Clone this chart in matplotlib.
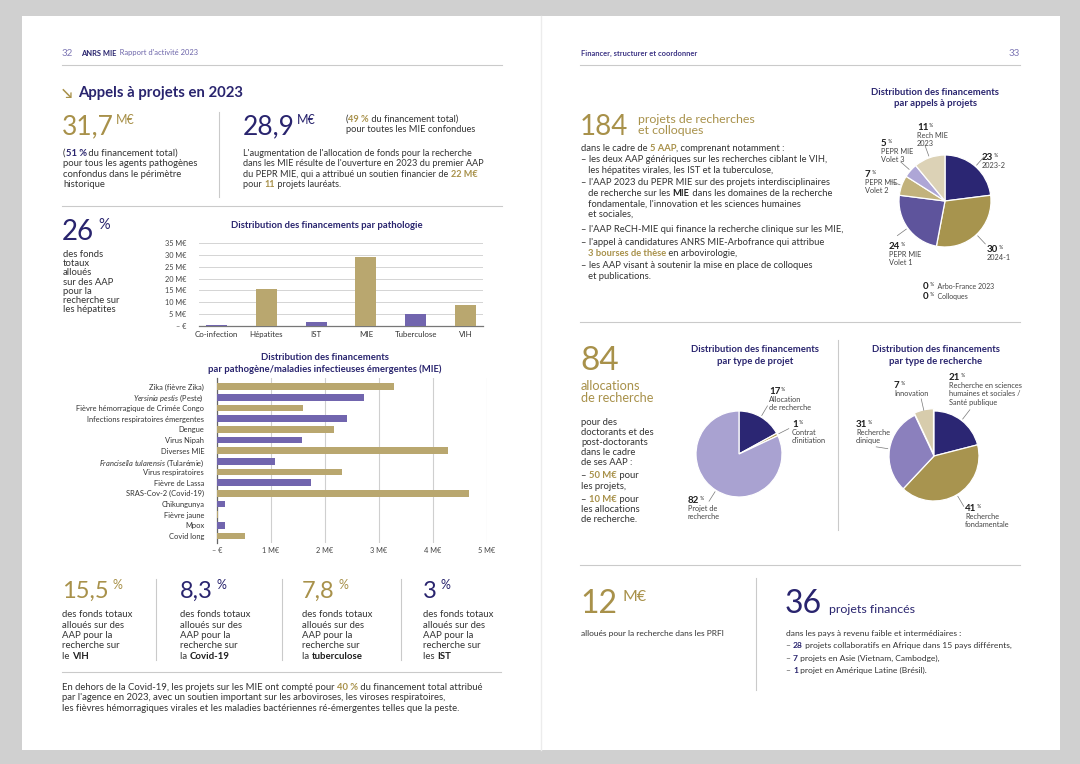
#!/usr/bin/env python3
"""Rapport d'activité ANRS MIE 2023, pages 32-33 : appels à projets."""

import matplotlib
matplotlib.use("Agg")
import matplotlib.pyplot as plt
import numpy as np
from matplotlib.patches import Rectangle
from matplotlib.ticker import FuncFormatter, MultipleLocator

plt.rcParams["font.family"] = ["Lato", "DejaVu Sans"]
plt.rcParams["mathtext.fontset"] = "custom"
plt.rcParams["mathtext.rm"] = "Lato"
plt.rcParams["mathtext.it"] = "Lato:italic"

W, H = 1080, 764
NAVY = "#29246e"
GOLD = "#a8914a"
BAR_GOLD = "#b9a76f"
BAR_PURPLE = "#7165ae"
TEXT = "#333333"
DARK = "#1e1e1e"
GREY = "#cacaca"
BIG = "normal"
TITLE = 6.8

# ---- data -------------------------------------------------------------
patho_labels = ["Co-infection", "Hépatites", "IST", "MIE", "Tuberculose", "VIH"]
patho_values = [0.4, 15.8, 1.8, 29.0, 4.9, 9.0]
patho_purple = [True, False, True, False, True, False]

mie_labels = [
    "Zika (fièvre Zika)",
    r"$\mathit{Yersinia\ pestis}$ (Peste)",
    "Fièvre hémorragique de Crimée Congo",
    "Infections respiratoires émergentes",
    "Dengue",
    "Virus Nipah",
    "Diverses MIE",
    r"$\mathit{Francisella\ tularensis}$ (Tularémie)",
    "Virus respiratoires",
    "Fièvre de Lassa",
    "SRAS-Cov-2 (Covid-19)",
    "Chikungunya",
    "Fièvre jaune",
    "Mpox",
    "Covid long",
]
mie_values = [3.28, 2.73, 1.60, 2.42, 2.18, 1.58, 4.28, 1.08,
              2.32, 1.74, 4.67, 0.15, 0.03, 0.15, 0.53]

aap_values = [23, 30, 24, 7, 5, 11]
aap_colors = ["#2b2673", "#a7944e", "#5e549c", "#c2b27c", "#aea6d6", "#dcd2b6"]
aap_labels = [["2023-2"], ["2024-1"], ["PEPR MIE", "Volet 1"],
              ["PEPR MIE", "Volet 2"], ["PEPR MIE", "Volet 3"],
              ["Rech MIE", "2023"]]
aap_zero = ["Arbo-France 2023", "Colloques"]

projet_values = [17, 1, 82]
projet_colors = ["#2b2673", "#b19d56", "#a9a2d1"]
projet_labels = [["Allocation", "de recherche"], ["Contrat", "d'initiation"],
                 ["Projet de", "recherche"]]

rech_values = [21, 41, 31, 7]
rech_colors = ["#2b2673", "#a8944f", "#8b80bd", "#d7ccac"]
rech_labels = [["Recherche en sciences", "humaines et sociales /", "Santé publique"],
               ["Recherche", "fondamentale"], ["Recherche", "clinique"],
               ["Innovation"]]

# ---- canvas -----------------------------------------------------------
fig = plt.figure(figsize=(W / 100, H / 100), dpi=100)
fig.patch.set_facecolor("#d0d0d0")
cv = fig.add_axes([0, 0, 1, 1])
cv.set_xlim(0, W)
cv.set_ylim(H, 0)
cv.axis("off")
cv.add_patch(Rectangle((22, 16), 1038, 734, fc="white", ec="none"))
cv.plot([541, 541], [16, 750], color="#ececec", lw=1)
R = fig.canvas.get_renderer()


def px_axes(x0, y0, x1, y1):
    return fig.add_axes([x0 / W, 1 - y1 / H, (x1 - x0) / W, (y1 - y0) / H])


def text(x, y, s, size, color=TEXT, weight="normal", **kw):
    kw.setdefault("va", "baseline")
    return cv.text(x, y, s, fontsize=size, color=color, fontweight=weight, **kw)


def width(s, size, weight):
    a = cv.text(0, 0, s + "|", fontsize=size, fontweight=weight)
    b = cv.text(0, 0, "|", fontsize=size, fontweight=weight)
    w = a.get_window_extent(R).width - b.get_window_extent(R).width
    a.remove()
    b.remove()
    return w


def rich(x, y, parts, size, color=TEXT):
    for p in parts:
        if isinstance(p, str):
            p = (p,)
        s = p[0]
        c = p[1] if len(p) > 1 else color
        wt = p[2] if len(p) > 2 else "normal"
        sz = p[3] if len(p) > 3 else size
        dy = p[4] if len(p) > 4 else 0
        text(x, y - dy, s, sz, c, wt)
        x += width(s, sz, wt)


def lines(x, y, rows, size, step, color=TEXT):
    for i, row in enumerate(rows):
        rich(x, y + i * step, row if isinstance(row, list) else [row], size, color)


def hline(y, x0, x1):
    cv.plot([x0, x1], [y, y], color=GREY, lw=0.8)


def vline(x, y0, y1):
    cv.plot([x, x], [y0, y1], color=GREY, lw=0.8)


def big(x, y, num, unit, color, size, usize, gap=3, rise=None):
    text(x, y, num, size, color, BIG)
    w = width(num, size, BIG)
    rise = size * 0.55 if rise is None else rise
    text(x + w + gap, y - rise, unit, usize, color, BIG)


def pct(x, y, v, sub, size=7):
    rich(x, y, [(f"{v}", DARK, "bold", size), (" %", DARK, "normal", size * 0.5, 2.8)], size)
    for i, s in enumerate(sub):
        text(x, y + 8.2 * (i + 1), s, 5.3, "#444444")


def pie(cx, cy, r, values, colors, explode=None):
    pad = 1.1
    ax = px_axes(cx - r * pad, cy - r * pad, cx + r * pad, cy + r * pad)
    wedges, _ = ax.pie(values, colors=colors, startangle=90, counterclock=False,
                       explode=explode,
                       wedgeprops=dict(edgecolor="white", linewidth=0.9))
    ax.set_xlim(-pad, pad)
    ax.set_ylim(-pad, pad)
    ax.axis("off")
    return ax, wedges


def leader(ax, wedge, r0=1.04, r1=1.3):
    a = np.deg2rad((wedge.theta1 + wedge.theta2) / 2)
    ax.plot([r0 * np.cos(a), r1 * np.cos(a)], [r0 * np.sin(a), r1 * np.sin(a)],
            color="#777777", lw=0.5, clip_on=False)


# ---- headers ----------------------------------------------------------
text(62, 56, "32", 7, "#7f78b5")
rich(81, 55.5, [("ANRS MIE", NAVY, "bold"), ("  Rapport d'activité 2023", "#6c64a9")], 5.4)
hline(65, 62, 502)
text(581, 55.5, "Financer, structurer et coordonner", 5.4, "#3d3585", "bold")
text(1020, 56, "33", 7, "#7f78b5", ha="right")
hline(65, 580, 1020)

# ---- left page, top ---------------------------------------------------
text(62, 97.5, "\u2198", 10, GOLD, "bold")
text(78, 97.5, "Appels à projets en 2023", 10.7, NAVY, "bold")

big(62, 134, "31,7", "M€", GOLD, 19, 9, gap=2, rise=10)
lines(63, 156, [[("(", TEXT), ("51 %", NAVY, "bold"), " du financement total)"],
                "pour tous les agents pathogènes",
                "confondus dans le périmètre",
                "historique"], 6.8, 10.4)
vline(219, 112, 197)
big(243, 134, "28,9", "M€", NAVY, 19, 9, gap=2, rise=10)
lines(346, 122, [[("(", TEXT), ("49 %", GOLD, "bold"), " du financement total)"],
                 "pour toutes les MIE confondues"], 6.7, 10.4)
lines(243, 156, ["L'augmentation de l'allocation de fonds pour la recherche",
                 "dans les MIE résulte de l'ouverture en 2023 du premier AAP",
                 ["du PEPR MIE, qui a attribué un soutien financier de ", ("22 M€", GOLD, "bold")],
                 ["pour ", ("11", GOLD, "bold"), " projets lauréats."]], 6.6, 10.4)
hline(206, 62, 502)

# ---- 26 % block -------------------------------------------------------
big(62, 240, "26", "%", NAVY, 20, 10.5, gap=4, rise=11)
lines(63, 257, ["des fonds", "totaux", "alloués", "sur des AAP", "pour la",
                "recherche sur", "les hépatites"], 6.8, 9.2)

# ---- bar chart : pathologie ------------------------------------------
text(327, 228, "Distribution des financements par pathologie", TITLE, NAVY, "bold", ha="center")
ax1 = px_axes(199, 243, 483, 326)
ax1.bar(range(len(patho_values)), patho_values, width=0.42,
        color=[BAR_PURPLE if p else BAR_GOLD for p in patho_purple], zorder=3)
ax1.set_xlim(-0.35, len(patho_values) - 0.65)
ax1.set_ylim(0, 35)
ax1.yaxis.set_major_locator(MultipleLocator(5))
ax1.yaxis.set_major_formatter(FuncFormatter(lambda v, _: "– €" if v == 0 else f"{v:.0f} M€"))
ax1.set_xticks(range(len(patho_labels)))
ax1.set_xticklabels(patho_labels)
ax1.grid(axis="y", color="#d4d4d4", lw=0.7, zorder=0)
for s in ["top", "right", "left"]:
    ax1.spines[s].set_visible(False)
ax1.spines["bottom"].set_color("#777777")
ax1.spines["bottom"].set_linewidth(0.9)
ax1.tick_params(axis="y", length=0, labelsize=5.3, pad=9, labelcolor="#444444")
ax1.tick_params(axis="x", length=0, labelsize=5.7, pad=3.5, labelcolor="#333333")
ax1.set_facecolor("none")

# ---- horizontal bars : MIE -------------------------------------------
text(325, 360.5, "Distribution des financements", TITLE, NAVY, "bold", ha="center")
text(325, 372, "par pathogène/maladies infectieuses émergentes (MIE)", TITLE, NAVY, "bold", ha="center")
ax2 = px_axes(216.7, 378, 486.7, 543)
n = len(mie_values)
ax2.barh(range(n), mie_values, height=0.62,
         color=[BAR_GOLD if i % 2 == 0 else BAR_PURPLE for i in range(n)], zorder=3)
ax2.set_ylim(n - 0.35, -0.8)
ax2.set_xlim(0, 5)
ax2.set_yticks(range(n))
ax2.set_yticklabels(mie_labels)
ax2.xaxis.set_major_locator(MultipleLocator(1))
ax2.xaxis.set_major_formatter(FuncFormatter(lambda v, _: "– €" if v == 0 else f"{v:.0f} M€"))
ax2.grid(axis="x", color="#cfcfcf", lw=0.8, zorder=0)
for s in ["top", "right", "bottom"]:
    ax2.spines[s].set_visible(False)
ax2.spines["left"].set_color("#666666")
ax2.spines["left"].set_linewidth(0.9)
ax2.tick_params(axis="y", length=0, labelsize=5.45, pad=9, labelcolor="#333333")
ax2.tick_params(axis="x", length=0, labelsize=5.3, pad=3, labelcolor="#444444")
ax2.set_facecolor("none")

# ---- bottom stats, left page -----------------------------------------
stats = [(62, "15,5", GOLD, "le ", "VIH"), (180, "8,3", NAVY, "la ", "Covid-19"),
         (302, "7,8", GOLD, "la ", "tuberculose"), (423, "3", NAVY, "les ", "IST")]
for x, num, col, art, what in stats:
    big(x, 598, num, "%", col, 17, 9, gap=4, rise=9)
    lines(x, 617, ["des fonds totaux", "alloués sur des", "AAP pour la", "recherche sur",
                   [art, (what, DARK, "bold")]], 6.9, 10.5)
for x in [156, 282, 401]:
    vline(x, 579, 660)
hline(672, 62, 501)
lines(62, 690, [["En dehors de la Covid-19, les projets sur les MIE ont compté pour ",
                 ("40 %", GOLD, "bold"), " du financement total attribué"],
                "par l'agence en 2023, avec un soutien important sur les arboviroses, les viroses respiratoires,",
                "les fièvres hémorragiques virales et les maladies bactériennes ré-émergentes telles que la peste."],
      6.85, 10.5)

# ---- right page, 184 -------------------------------------------------
text(580, 135, "184", 20, GOLD, BIG)
text(638, 123, "projets de recherches", 8.9, GOLD)
text(638, 134, "et colloques", 8.9, GOLD)
BODY_R = 6.75
lines(581, 151, [["dans le cadre de ", ("5 AAP", GOLD, "bold"), ", comprenant notamment :"],
                 "– les deux AAP génériques sur les recherches ciblant le VIH,",
                 "   les hépatites virales, les IST et la tuberculose,"], BODY_R, 11)
lines(581, 185, ["– l'AAP 2023 du PEPR MIE sur des projets interdisciplinaires",
                 ["   de recherche sur les ", ("MIE", DARK, "bold"), " dans les domaines de la recherche"],
                 "   fondamentale, l'innovation et les sciences humaines",
                 "   et sociales,"], BODY_R, 10.6)
text(581, 232, "– l'AAP ReCH-MIE qui finance la recherche clinique sur les MIE,", BODY_R)
lines(581, 245, ["– l'appel à candidatures ANRS MIE-Arbofrance qui attribue",
                 ["   ", ("3 bourses de thèse", GOLD, "bold"), " en arbovirologie,"]], BODY_R, 10.6)
lines(581, 268.5, ["– les AAP visant à soutenir la mise en place de colloques",
                   "   et publications."], BODY_R, 10.6)

# ---- pie : appels à projets ------------------------------------------
text(935, 95, "Distribution des financements", TITLE, NAVY, "bold", ha="center")
text(935, 106, "par appels à projets", TITLE, NAVY, "bold", ha="center")
axp1, wp1 = pie(945, 201, 46, aap_values, aap_colors)
for w in wp1:
    leader(axp1, w, 1.04, 1.28)
pos1 = [(982, 160), (987, 252), (889, 249), (865, 177), (881, 146), (917, 130)]
for (x, y), v, sub in zip(pos1, aap_values, aap_labels):
    pct(x, y, v, sub)
for i, s in enumerate(aap_zero):
    rich(923, 289 + 10.3 * i, [("0", DARK, "bold", 7), (" %", DARK, "normal", 3.5, 2.8),
                               ("  " + s, "#444444", "normal", 5)], 7)

hline(322, 580, 1020)

# ---- 84 allocations ---------------------------------------------------
text(580, 370, "84", 24, GOLD, BIG)
text(581, 390, "allocations", 9.2, GOLD)
text(581, 402, "de recherche", 9.2, GOLD)
lines(581, 425, ["pour des", "doctorants et des", "post-doctorants", "dans le cadre",
                 "de ses AAP :"], 6.8, 10)
lines(581, 478, [["– ", ("50 M€", GOLD, "bold"), " pour"], "les projets,"], 6.8, 10.6)
lines(581, 501.5, [["– ", ("10 M€", GOLD, "bold"), " pour"], "les allocations",
                   "de recherche."], 6.8, 10.2)

# ---- pie : type de projet --------------------------------------------
text(755, 352.5, "Distribution des financements", TITLE, NAVY, "bold", ha="center")
text(755, 363.5, "par type de projet", TITLE, NAVY, "bold", ha="center")
axp2, wp2 = pie(739, 454, 43, projet_values, projet_colors)
for w in wp2:
    leader(axp2, w, 1.04, 1.3)
pos2 = [(769, 394), (792, 427), (688, 503)]
for (x, y), v, sub in zip(pos2, projet_values, projet_labels):
    pct(x, y, v, sub)
vline(838, 340, 530)

# ---- pie : type de recherche -----------------------------------------
text(936, 352.5, "Distribution des financements", TITLE, NAVY, "bold", ha="center")
text(936, 363.5, "par type de recherche", TITLE, NAVY, "bold", ha="center")
axp3, wp3 = pie(934, 456, 45, rech_values, rech_colors, explode=[0, 0, 0, 0.05])
for w in wp3:
    leader(axp3, w, 1.04, 1.3)
pos3 = [(949, 380), (965, 511), (856, 427), (894, 388)]
for (x, y), v, sub in zip(pos3, rech_values, rech_labels):
    pct(x, y, v, sub)

hline(565, 580, 1020)

# ---- 12 M€ / 36 projets -----------------------------------------------
big(580, 613, "12", "M€", GOLD, 23, 11.5, gap=6, rise=12)
text(581, 636, "alloués pour la recherche dans les PRFI", 6.0)
vline(756, 578, 690)
text(785, 613, "36", 23, NAVY, BIG)
text(829, 613, "projets financés", 8.9, NAVY)
lines(786, 636, ["dans les pays à revenu faible et intermédiaires :",
                 ["– ", ("28", NAVY, "bold"), " projets collaboratifs en Afrique dans 15 pays différents,"],
                 ["– ", ("7", NAVY, "bold"), " projets en Asie (Vietnam, Cambodge),"],
                 ["– ", ("1", NAVY, "bold"), " projet en Amérique Latine (Brésil)."]], 6.1, 12.3)

fig.savefig("out.png", dpi=100, facecolor=fig.get_facecolor())
